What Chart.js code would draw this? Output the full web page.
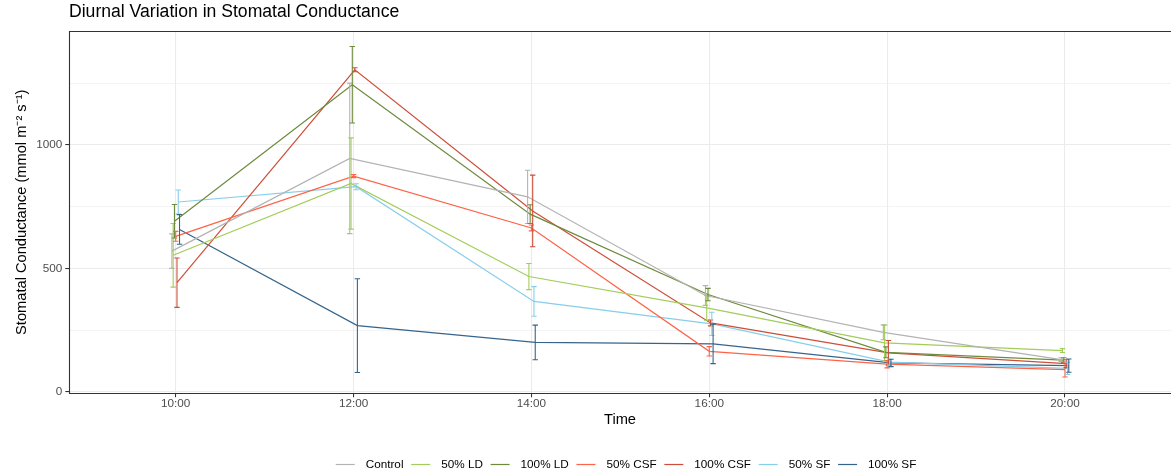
<!DOCTYPE html>
<html>
<head>
<meta charset="utf-8">
<title>Diurnal Variation in Stomatal Conductance</title>
<script src="https://cdn.jsdelivr.net/npm/chart.js@4.4.1/dist/chart.umd.min.js"></script>
<style>
  html, body { margin: 0; padding: 0; background: #ffffff; }
  #wrap { width: 1171px; height: 471px; }
</style>
</head>
<body>
<div id="wrap"><canvas id="graficoConductancia"></canvas></div>
<script>
const times = ["10:00", "12:00", "14:00", "16:00", "18:00", "20:00"];
const treatments = ["Control", "50% LD", "100% LD", "50% CSF", "100% CSF", "50% SF", "100% SF"];
const colors = ["#B3B3B3", "#A2CD5A", "#6E8B3D", "#FF6347", "#CD4F39", "#87CEEB", "#36648B"];

// mean stomatal conductance per treatment (mmol m-2 s-1)
const control = [570, 946, 790, 390, 241, 130];
const ld50 = [553, 844, 467, 340, 198, 167];
const ld100 = [691, 1244, 720, 394, 160, 128];
const csf50 = [630, 874, 664, 164, 112, 90];
const csf100 = [442, 1305, 733, 279, 158, 114];
const sf50 = [769, 831, 366, 275, 120, 95];
const sf100 = [658, 268, 200, 194, 117, 106];

// error bar half-lengths
const controlErr = [70, 305, 108, 40, 30, 8];
const ld50Err = [129, 185, 53, 50, 72, 8];
const ld100Err = [68, 155, 38, 25, 22, 10];
const csf50Err = [20, 6, 12, 19, 15, 30];
const csf100Err = [100, 8, 145, 12, 50, 16];
const sf50Err = [49, 12, 60, 47, 12, 25];
const sf100Err = [60, 190, 70, 80, 15, 27];

const yTicks = [0, 250, 500, 750, 1000, 1250];
const yLabels = [0, 500, 1000];

const means = [control, ld50, ld100, csf50, csf100, sf50, sf100];
const errs = [controlErr, ld50Err, ld100Err, csf50Err, csf100Err, sf50Err, sf100Err];

const dodgeWidth = 0.05;
const font = "'Liberation Sans', Arial, sans-serif";

const datasets = treatments.map(function (name, k) {
  const shift = (k - (treatments.length - 1) / 2) * dodgeWidth / treatments.length;
  return {
    label: name,
    data: means[k].map(function (v, i) { return { x: i + shift, y: v }; }),
    errors: errs[k],
    borderColor: colors[k],
    backgroundColor: colors[k],
    borderWidth: 1.2,
    pointRadius: 0,
    tension: 0,
  };
});

const errorBars = {
  id: "errorBars",
  afterDatasetsDraw(chart) {
    const ctx = chart.ctx;
    const yScale = chart.scales.y;
    const area = chart.chartArea;
    ctx.save();
    ctx.beginPath();
    ctx.rect(area.left, area.top, area.right - area.left, area.bottom - area.top);
    ctx.clip();
    chart.data.datasets.forEach(function (ds, d) {
      const meta = chart.getDatasetMeta(d);
      ctx.strokeStyle = ds.borderColor;
      ctx.lineWidth = 1.1;
      meta.data.forEach(function (pt, i) {
        const top = yScale.getPixelForValue(ds.data[i].y + ds.errors[i]);
        const bottom = yScale.getPixelForValue(ds.data[i].y - ds.errors[i]);
        ctx.beginPath();
        ctx.moveTo(pt.x, top);
        ctx.lineTo(pt.x, bottom);
        ctx.moveTo(pt.x - 2.7, top);
        ctx.lineTo(pt.x + 2.7, top);
        ctx.moveTo(pt.x - 2.7, bottom);
        ctx.lineTo(pt.x + 2.7, bottom);
        ctx.stroke();
      });
    });
    ctx.restore();
  },
};

const panelBorder = {
  id: "panelBorder",
  afterDraw(chart) {
    const ctx = chart.ctx;
    const a = chart.chartArea;
    ctx.save();
    ctx.strokeStyle = "#333333";
    ctx.lineWidth = 1.1;
    ctx.beginPath();
    ctx.moveTo(a.right, a.top + 0.5);
    ctx.lineTo(a.left + 0.5, a.top + 0.5);
    ctx.lineTo(a.left + 0.5, a.bottom);
    ctx.lineTo(a.right, a.bottom);
    ctx.stroke();
    ctx.restore();
  },
};

const bottomLegend = {
  id: "bottomLegend",
  afterDraw(chart) {
    const ctx = chart.ctx;
    const a = chart.chartArea;
    const keyW = 19, keyGap = 11, itemGap = 7.7;
    ctx.save();
    ctx.font = "11.73px " + font;
    ctx.textBaseline = "middle";
    ctx.textAlign = "left";
    const items = chart.data.datasets;
    let total = 0;
    items.forEach(function (ds, i) {
      total += keyW + keyGap + ctx.measureText(ds.label).width + (i < items.length - 1 ? itemGap : 0);
    });
    let x = (a.left + a.right) / 2 + 6 - total / 2;
    const y = 464.5;
    items.forEach(function (ds) {
      ctx.strokeStyle = ds.borderColor;
      ctx.lineWidth = 1.2;
      ctx.beginPath();
      ctx.moveTo(x, y);
      ctx.lineTo(x + keyW, y);
      ctx.stroke();
      ctx.fillStyle = "#000000";
      ctx.fillText(ds.label, x + keyW + keyGap, y);
      x += keyW + keyGap + ctx.measureText(ds.label).width + itemGap;
    });
    ctx.restore();
  },
};

const ctx = document.getElementById("graficoConductancia").getContext("2d");
new Chart(ctx, {
  type: "line",
  data: { datasets: datasets },
  options: {
    responsive: true,
    maintainAspectRatio: false,
    animation: false,
    layout: { padding: { left: 0, right: 0, top: 0, bottom: 38 } },
    plugins: {
      legend: { display: false },
      tooltip: { enabled: false },
      title: {
        display: true,
        text: "Diurnal Variation in Stomatal Conductance",
        align: "start",
        fullSize: false,
        color: "#000000",
        font: { family: font, size: 17.6, weight: "normal", lineHeight: 1.2 },
        padding: { top: 1.7, bottom: 8.2 },
      },
    },
    scales: {
      x: {
        type: "linear",
        min: -0.6,
        max: 5.596,
        afterBuildTicks(scale) {
          scale.ticks = times.map(function (t, i) { return { value: i }; });
        },
        afterFit(scale) { scale.height = 39.5; },
        ticks: {
          padding: 0,
          color: "#4D4D4D",
          font: { family: font, size: 11.73, lineHeight: 1.2 },
          maxRotation: 0,
          callback: function (value) { return times[value]; },
        },
        grid: { color: "#EBEBEB", lineWidth: 1.07, tickLength: 3.7, tickColor: "#333333" },
        border: { display: false },
        title: {
          display: true,
          text: "Time",
          color: "#000000",
          font: { family: font, size: 14.67, lineHeight: 1.2 },
          padding: { top: 0, bottom: 4 },
        },
      },
      y: {
        min: -7,
        max: 1462,
        afterBuildTicks(scale) {
          scale.ticks = yTicks.map(function (v) { return { value: v }; });
        },
        afterFit(scale) { scale.width = 69; },
        ticks: {
          padding: 3,
          color: "#4D4D4D",
          font: { family: font, size: 11.73, lineHeight: 1.2 },
          callback: function (value) { return yLabels.includes(value) ? String(value) : ""; },
        },
        grid: {
          color: "#EBEBEB",
          lineWidth: function (c) { return yLabels.includes(c.tick && c.tick.value) ? 1.07 : 0.6; },
          tickLength: 3.7,
          tickColor: function (c) { return yLabels.includes(c.tick && c.tick.value) ? "#333333" : "rgba(0,0,0,0)"; },
        },
        border: { display: false },
        title: {
          display: true,
          text: "Stomatal Conductance (mmol m⁻² s⁻¹)",
          color: "#000000",
          font: { family: font, size: 14.67, lineHeight: 1.2 },
          padding: { top: 13, bottom: 0 },
        },
      },
    },
  },
  plugins: [errorBars, panelBorder, bottomLegend],
});
</script>
</body>
</html>
